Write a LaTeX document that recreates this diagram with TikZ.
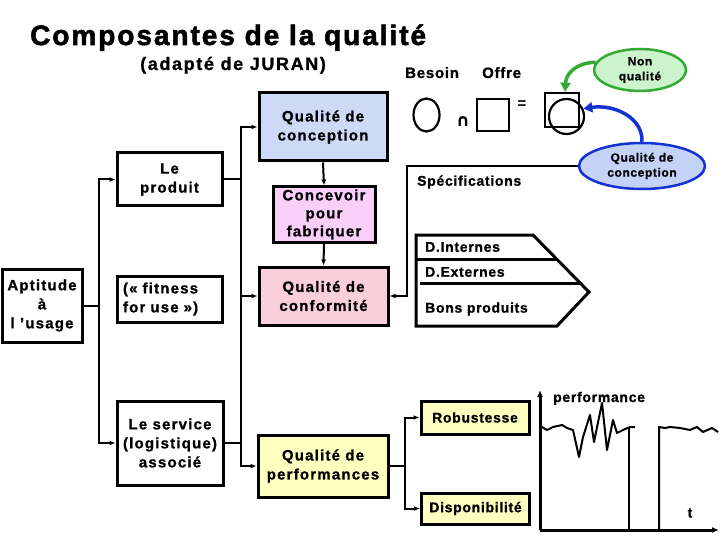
\documentclass[tikz,border=0pt]{standalone}
\usepackage{fontspec}
\setmainfont{Liberation Sans}
\newfontfamily\bodyf{Liberation Sans}[LetterSpace=8,FakeBold=1]
\newfontfamily\smallf{Liberation Sans}[LetterSpace=5,FakeBold=1]
\newfontfamily\subf{Liberation Sans}[LetterSpace=9,FakeBold=1]
\newfontfamily\titlef{Liberation Sans}[LetterSpace=7,FakeBold=2]
\newfontfamily\symf{DejaVu Sans}
\usetikzlibrary{arrows.meta,shapes.geometric}
\definecolor{cblue}{RGB}{204,218,248}
\definecolor{cviolet}{RGB}{250,208,250}
\definecolor{cpink}{RGB}{250,206,218}
\definecolor{cyellow}{RGB}{255,255,192}
\definecolor{cgreenf}{RGB}{204,244,204}
\definecolor{cgreen}{RGB}{52,170,52}
\definecolor{ebluef}{RGB}{196,210,248}
\definecolor{eblue}{RGB}{20,50,210}
\tikzset{
  box/.style={draw, line width=3pt, align=center, inner sep=0pt,
    font=\bodyf\bfseries\fontsize{15}{19}\selectfont},
  sbox/.style={draw, line width=3pt, align=center, inner sep=0pt,
    font=\smallf\bfseries\fontsize{14}{17}\selectfont},
  lbl/.style={inner sep=0pt, font=\smallf\bfseries\fontsize{14}{17}\selectfont},
  conn/.style={line width=2pt},
  arr/.style={conn, -{Latex[length=6pt,width=5pt]}},
  bubble/.style={ellipse, line width=2.5pt, inner sep=0pt, align=center,
    font=\smallf\bfseries\fontsize{12}{15}\selectfont},
  sym/.style={draw, line width=2.5pt, inner sep=0pt},
  bigarrow/.style={line width=3.5pt, -{Triangle[length=9pt,width=10pt]}}
}
\begin{document}
\begin{tikzpicture}[x=1pt,y=-1pt]
\useasboundingbox (0,0) rectangle (720,540);
\fill[white] (0,0) rectangle (720,540);

% titles
\node[anchor=base west, inner sep=0pt, font=\titlef\bfseries\fontsize{28}{32}\selectfont] (title) at (30,45) {Composantes de la qualité};
\node[anchor=base west, inner sep=0pt, font=\subf\bfseries\fontsize{18}{21}\selectfont] (sub) at (140,70) {(adapté de JURAN)};

% main boxes
\node[box, fill=cblue, minimum width=128pt, minimum height=68pt] (qc) at (323,127) {Qualité de\\conception};
\node[box, fill=cviolet, minimum width=102pt, minimum height=55pt, font=\bodyf\bfseries\fontsize{15}{18}\selectfont] (cpf) at (324,214.5) {Concevoir\\pour\\fabriquer};
\node[box, fill=cpink, minimum width=129pt, minimum height=58pt] (conf) at (323.5,296) {Qualité de\\conformité};
\node[box, fill=cyellow, minimum width=130pt, minimum height=62pt] (perf) at (323,466) {Qualité de\\performances};

\node[box, minimum width=105pt, minimum height=53pt] (prod) at (169.5,179.5) {Le\\produit};
\node[box, minimum width=105pt, minimum height=46pt, text width=93pt, align=left, inner xsep=6pt] (fit) at (169.5,299) {(« fitness\\for use »)};
\node[box, minimum width=80pt, minimum height=73pt] (apt) at (42,305.5) {Aptitude\\à\\l ’usage};
\node[box, minimum width=106pt, minimum height=84pt] (serv) at (170,443) {Le service\\(logistique)\\associé};

\node[sbox, fill=cyellow, minimum width=108pt, minimum height=33pt] (rob) at (475,417.5) {Robustesse};
\node[sbox, fill=cyellow, minimum width=108pt, minimum height=31pt] (dispo) at (475.5,508.5) {Disponibilité};

% left tree
\coordinate (j1) at (99,0);
\draw[conn] (apt.east) -- (apt.east -| j1);
\draw[arr] (apt.east -| j1) |- (prod.west);
\draw[arr] (apt.east -| j1) |- (serv.west);

% bus
\coordinate (b) at (241,0);
\draw[conn] (prod.east) -- (prod.east -| b);
\draw[arr] (prod.east -| b) |- (qc.west);
\draw[arr] (prod.east -| b) |- (conf.west);
\draw[conn] (prod.east -| b) -- (serv.east -| b);
\draw[conn] (serv.east) -- (serv.east -| b);
\draw[arr] (serv.east -| b) |- (perf.west);

% vertical chain
\draw[arr] (qc.south) -- (cpf.north);
\draw[arr] (cpf.south) -- (conf.north);

% performance split
\coordinate (px) at (405,0);
\draw[conn] (perf.east) -- (perf.east -| px);
\draw[arr] (perf.east -| px) |- (rob.west);
\draw[arr] (perf.east -| px) |- (dispo.west);

% Besoin / Offre
\node[anchor=base west, inner sep=0pt, font=\smallf\bfseries\fontsize{15}{17}\selectfont] (lb) at (405,78) {Besoin};
\node[anchor=base west, inner sep=0pt, font=\smallf\bfseries\fontsize{15}{17}\selectfont] (lo) at (482,78) {Offre};
\node[sym, ellipse, line width=2.2pt, minimum width=26pt, minimum height=33pt] (besoin) at (426.5,115) {};
\node[inner sep=0pt, font=\symf\bfseries\fontsize{17}{18}\selectfont] (inter) at (463,122) {∩};
\node[sym, minimum width=32pt, minimum height=32pt] (offre) at (493,115) {};
\node[inner sep=0pt, font=\bfseries\fontsize{15}{15}\selectfont] (eq) at (522,105) {=};
\node[sym, minimum width=34pt, minimum height=34pt] (res) at (562,110) {};
\node[sym, ellipse, line width=2.2pt, minimum width=35pt, minimum height=35pt] (resc) at (566.5,116.5) {};

% bubbles
\node[bubble, draw=cgreen, fill=cgreenf, minimum width=92pt, minimum height=42pt] (nq) at (640,70) {Non\\qualité};
\node[bubble, draw=eblue, fill=ebluef, minimum width=126pt, minimum height=46pt] (bq) at (642,166) {Qualité de\\conception};
\draw[bigarrow, cgreen] (nq.170) .. controls (575,63) and (566,74) .. ([xshift=3pt]res.north);
\draw[bigarrow, eblue] (bq.north) .. controls (643,118) and (615,104) .. (resc.25);

% specifications bracket
\coordinate (sx) at (407,0);
\draw[arr] (bq.west) -- (bq.west -| sx) |- (conf.east);
\node[lbl, anchor=west] (spec) at (417,182) {Spécifications};

% pentagon arrow
\draw[line width=3pt, line join=miter] (416,235) -- (533,235) -- (589,292) -- (557,326) -- (416,326) -- cycle;
\draw[line width=3pt] (416,259) -- (557,259);
\draw[line width=3pt] (420,283) -- (580,283);
\node[lbl, anchor=west] (dint) at (425,247) {D.Internes};
\node[lbl, anchor=west] (dext) at (425,272) {D.Externes};
\node[lbl, anchor=west] (bons) at (425,309) {Bons produits};

% chart
\coordinate (O) at (540,530);
\draw[line width=3pt, -{Latex[length=7pt,width=6pt]}] (O) -- (540,390);
\draw[line width=3pt, -{Latex[length=7pt,width=6pt]}] (O) -- (719,530);
\draw[line width=2pt, line join=round] (542,427) -- (547,430) -- (553,427) -- (562,425) -- (567,428) -- (573,430) -- (579,457) -- (583,437) -- (590,415) -- (594,442) -- (602,403) -- (607,450) -- (613,420) -- (617,433) -- (623,430) -- (630,427) -- (635,427);
\draw[line width=2pt] (629,427) -- (629,530);
\draw[line width=2pt, line join=round] (659,530) -- (659,427) -- (665,428) -- (670,427) -- (680,428) -- (690,430) -- (697,427) -- (703,432) -- (712,428) -- (718,432);
\node[lbl, anchor=base west] (perflbl) at (553,402) {performance};
\node[lbl] (tlbl) at (690,513) {t};
\end{tikzpicture}
\end{document}
